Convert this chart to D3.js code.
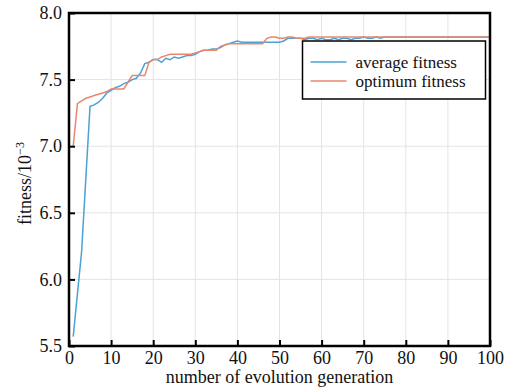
<!DOCTYPE html>
<html>
<head>
<meta charset="utf-8">
<script src="https://cdn.jsdelivr.net/npm/d3@7"></script>
<style>
	body { margin: 0; background: #fff; }
	svg text { font-family: "Liberation Serif", "Times New Roman", Times, "DejaVu Serif", serif !important; }
</style>
</head>
<body>
<div id="graph"></div>
<script>
// values, generation 1..100
const generations = d3.range(1, 101);

const averageFitness = [
	5.57, 5.89, 6.21, 6.76, 7.30, 7.31, 7.33, 7.36, 7.40, 7.42,
	7.44, 7.45, 7.47, 7.48, 7.50, 7.51, 7.55, 7.62, 7.63, 7.65,
	7.65, 7.63, 7.66, 7.65, 7.67, 7.66, 7.67, 7.68, 7.68, 7.69,
	7.71, 7.72, 7.72, 7.73, 7.73, 7.74, 7.76, 7.77, 7.78, 7.79,
	7.78, 7.78, 7.78, 7.78, 7.78, 7.78, 7.78, 7.78, 7.78, 7.78,
	7.79, 7.81, 7.81, 7.81, 7.81, 7.80, 7.81, 7.81, 7.80, 7.81,
	7.80, 7.80, 7.81, 7.80, 7.81, 7.81, 7.80, 7.81, 7.81, 7.82,
	7.81, 7.81, 7.82, 7.81, 7.82, 7.82, 7.82, 7.82, 7.82, 7.82,
	7.82, 7.82, 7.82, 7.82, 7.82, 7.82, 7.82, 7.82, 7.82, 7.82,
	7.82, 7.82, 7.82, 7.82, 7.82, 7.82, 7.82, 7.82, 7.82, 7.82
];

const optimumFitness = [
	7.00, 7.32, 7.34, 7.36, 7.37, 7.38, 7.39, 7.40, 7.41, 7.43,
	7.43, 7.43, 7.43, 7.48, 7.53, 7.53, 7.53, 7.53, 7.63, 7.65,
	7.65, 7.67, 7.68, 7.69, 7.69, 7.69, 7.69, 7.69, 7.69, 7.70,
	7.71, 7.72, 7.72, 7.72, 7.72, 7.75, 7.76, 7.77, 7.77, 7.77,
	7.77, 7.77, 7.77, 7.77, 7.77, 7.77, 7.81, 7.82, 7.82, 7.81,
	7.81, 7.82, 7.82, 7.81, 7.81, 7.81, 7.82, 7.82, 7.82, 7.82,
	7.82, 7.82, 7.82, 7.82, 7.82, 7.82, 7.82, 7.82, 7.82, 7.82,
	7.82, 7.82, 7.82, 7.82, 7.82, 7.82, 7.82, 7.82, 7.82, 7.82,
	7.82, 7.82, 7.82, 7.82, 7.82, 7.82, 7.82, 7.82, 7.82, 7.82,
	7.82, 7.82, 7.82, 7.82, 7.82, 7.82, 7.82, 7.82, 7.82, 7.82
];

const xTicks = [0, 10, 20, 30, 40, 50, 60, 70, 80, 90, 100];
const yTicks = [5.5, 6.0, 6.5, 7.0, 7.5, 8.0];
const seriesNames = ["average fitness", "optimum fitness"];

const svgWidth = 516;
const svgHeight = 390;
const margin = {top: 13, left: 69, right: 26, bottom: 44};
const w = svgWidth - margin.left - margin.right;
const h = svgHeight - margin.top - margin.bottom;
const colors = ["#4aa2d6", "#ea876b"];

const svg = d3.select('#graph').append('svg')
	.attr('width', svgWidth)
	.attr('height', svgHeight);

const g = svg.append('g')
	.attr('transform', `translate(${margin.left}, ${margin.top})`);

const xScale = d3.scaleLinear().domain([0, 100]).range([0, w]);
const yScale = d3.scaleLinear().domain([5.5, 8.0]).range([h, 0]);

// grid
g.append('g').selectAll('line').data(xTicks.slice(1, -1)).enter()
	.append('line')
	.attr('x1', d => xScale(d)).attr('x2', d => xScale(d))
	.attr('y1', 0).attr('y2', h)
	.style('stroke', '#e4e4e4');
g.append('g').selectAll('line').data(yTicks.slice(1, -1)).enter()
	.append('line')
	.attr('x1', 0).attr('x2', w)
	.attr('y1', d => yScale(d)).attr('y2', d => yScale(d))
	.style('stroke', '#e4e4e4');

// lines
const series = [averageFitness, optimumFitness];
series.forEach((vals, k) => {
	const line = d3.line()
		.x((d, i) => xScale(generations[i]))
		.y(d => yScale(d));
	g.append('path')
		.datum(vals)
		.attr('d', line)
		.style('fill', 'none')
		.style('stroke', colors[k])
		.style('stroke-width', 1.5);
});

// axes, ticks pointing inward
const xAxis = d3.axisBottom(xScale)
	.tickValues(xTicks)
	.tickFormat(d3.format('d'))
	.tickSizeInner(-6)
	.tickSizeOuter(0)
	.tickPadding(5);
const gx = g.append('g')
	.attr('transform', `translate(0, ${h})`)
	.call(xAxis);

const yAxis = d3.axisLeft(yScale)
	.tickValues(yTicks)
	.tickFormat(d3.format('.1f'))
	.tickSizeInner(-6)
	.tickSizeOuter(0)
	.tickPadding(7);
const gy = g.append('g').call(yAxis);

[gx, gy].forEach(ax => {
	ax.attr('font-family', null);
	ax.select('.domain').remove();
	ax.selectAll('.tick line').style('stroke', '#000').style('stroke-width', 2);
	ax.selectAll('.tick text')
		.style('font-size', '18px')
		.style('fill', '#111');
});

// frame
g.append('rect')
	.attr('width', w).attr('height', h)
	.style('fill', 'none')
	.style('stroke', '#000')
	.style('stroke-width', 2.5);

// axis titles
svg.append('text')
	.attr('x', margin.left + w / 2)
	.attr('y', 383)
	.attr('text-anchor', 'middle')
	.style('font-size', '18px')
	.style('fill', '#111')
	.text('number of evolution generation');

const yl = svg.append('text')
	.attr('transform', `translate(31, ${margin.top + h / 2 + 4}) rotate(-90)`)
	.attr('text-anchor', 'middle')
	.style('font-size', '18px')
	.style('fill', '#111');
yl.append('tspan').text('fitness/10');
yl.append('tspan').attr('dy', -7).style('font-size', '12px').text('−3');

// legend
const legend = svg.append('g').attr('transform', 'translate(302.5, 41)');
legend.append('rect')
	.attr('width', 183).attr('height', 58)
	.style('fill', '#fff')
	.style('stroke', '#000')
	.style('stroke-width', 1.5);
seriesNames.forEach((name, k) => {
	const yy = 21 + k * 19;
	legend.append('line')
		.attr('x1', 8).attr('x2', 44)
		.attr('y1', yy).attr('y2', yy)
		.style('stroke', colors[k])
		.style('stroke-width', 1.5);
	legend.append('text')
		.attr('x', 53).attr('y', yy + 5.5)
		.style('font-size', '17px')
		.style('fill', '#111')
		.text(name);
});
</script>
</body>
</html>
